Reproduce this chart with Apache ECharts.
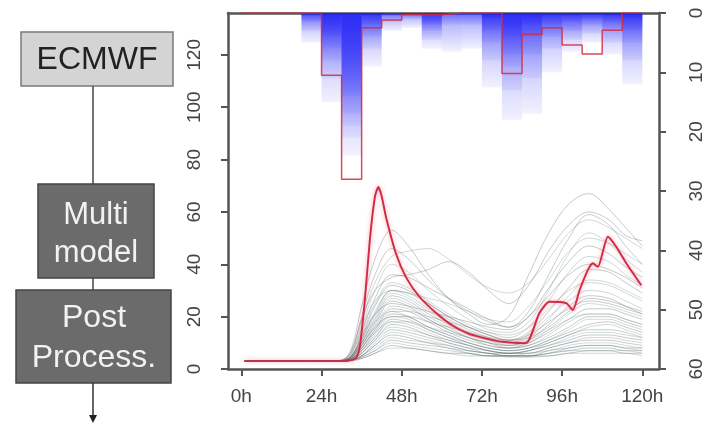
<!DOCTYPE html>
<html>
<head>
<meta charset="utf-8">
<script src="https://cdn.jsdelivr.net/npm/echarts@6/dist/echarts.min.js"></script>
<style>
html, body { margin: 0; padding: 0; background: #fff; }
#chart { width: 706px; height: 424px; }
</style>
</head>
<body>
<div id="chart"></div>
<script>
// axis ticks
const timeTicks = [0, 24, 48, 72, 96, 120];
const flowTicks = [0, 20, 40, 60, 80, 100, 120];

// ensemble discharge runs, sampled at ensTimes (hours)
const ensTimes = [1, 24, 30, 33, 36, 40, 45, 50, 56, 62, 68, 74, 80, 86, 92, 98, 104, 110, 115, 120];
const ensembleRuns = [
  [3, 3, 3.4, 8, 24, 42, 53, 47, 36, 27, 21, 17, 20, 36, 52, 63, 67, 61, 54, 47],
  [3, 3, 3.3, 6, 18, 33, 43, 45, 46, 42, 36, 31, 29, 33, 42, 52, 57, 54, 50, 46],
  [3, 3, 3.3, 7, 20, 36, 46, 42, 34, 27, 22, 18, 16, 22, 36, 50, 59, 55, 47, 40],
  [3, 3, 3.2, 6, 16, 30, 40, 37, 30, 24, 19, 15, 14, 18, 30, 44, 52, 48, 42, 37],
  [3, 3, 3.2, 5, 14, 27, 36, 35, 31, 27, 23, 19, 16, 20, 31, 41, 47, 44, 39, 35],
  [3, 3, 3.2, 5, 13, 25, 33, 31, 26, 21, 17, 14, 12, 16, 26, 37, 43, 41, 36, 32],
  [3, 3, 3.1, 5, 12, 24, 32, 30, 25, 20, 16, 13, 11, 14, 22, 31, 38, 37, 33, 29],
  [3, 3, 3.1, 5, 11, 22, 30, 28, 23, 19, 15, 12, 10, 12, 19, 28, 34, 33, 30, 27],
  [3, 3, 3.1, 4.5, 11, 21, 30, 29, 25, 20, 16, 13, 11, 12, 16, 22, 27, 26, 24, 22],
  [3, 3, 3.1, 4.5, 10, 20, 29, 27, 22, 18, 14, 11, 10, 13, 20, 26, 30, 29, 26, 23],
  [3, 3, 3, 4.5, 10, 19, 28, 26, 21, 17, 13, 11, 9, 11, 17, 24, 28, 27, 24, 21],
  [3, 3, 3, 4.5, 9, 18, 27, 25, 20, 16, 12, 10, 9, 10, 15, 21, 25, 24, 22, 20],
  [3, 3, 3, 4, 9, 17, 26, 24, 19, 15, 12, 10, 8, 10, 14, 19, 23, 23, 21, 19],
  [3, 3, 3, 4, 8, 16, 24, 23, 19, 15, 12, 9, 8, 9, 13, 18, 21, 21, 19, 17],
  [3, 3, 3, 4, 8, 15, 23, 22, 18, 14, 11, 9, 8, 9, 12, 16, 20, 20, 18, 16],
  [3, 3, 3, 4, 8, 15, 22, 20, 16, 13, 10, 8, 7, 8, 11, 15, 19, 19, 17, 15],
  [3, 3, 3, 4, 7, 14, 21, 20, 16, 13, 10, 8, 7, 8, 11, 14, 17, 18, 16, 14],
  [3, 3, 3, 4, 7, 13, 20, 19, 15, 12, 10, 8, 7, 8, 10, 13, 16, 17, 15, 13],
  [3, 3, 3, 3.8, 7, 12, 19, 18, 15, 12, 9, 7, 6, 7, 10, 13, 15, 15, 14, 12],
  [3, 3, 3, 3.8, 6, 12, 18, 17, 14, 11, 9, 7, 6, 7, 9, 12, 14, 14, 13, 12],
  [3, 3, 3, 3.7, 6, 11, 17, 16, 13, 11, 9, 7, 6, 7, 9, 11, 13, 13, 12, 11],
  [3, 3, 3, 3.6, 6, 11, 16, 15, 13, 10, 8, 7, 6, 6, 8, 10, 12, 12, 11, 10],
  [3, 3, 3, 3.5, 5, 10, 15, 14, 12, 10, 8, 6, 6, 6, 8, 10, 11, 11, 10, 9],
  [3, 3, 3, 3.5, 5, 9, 14, 13, 11, 9, 7, 6, 5, 6, 7, 9, 10, 10, 9, 8],
  [3, 3, 3, 3.4, 5, 9, 13, 12, 10, 9, 7, 6, 5, 5, 7, 8, 9, 9, 8, 8],
  [3, 3, 3, 3.4, 5, 8, 12, 11, 10, 8, 7, 6, 5, 5, 6, 8, 9, 9, 8, 7],
  [3, 3, 3, 3.3, 4.5, 7, 11, 10, 9, 8, 6, 5, 5, 5, 6, 7, 8, 8, 7, 7],
  [3, 3, 3, 3.3, 4.5, 7, 10, 9, 8, 7, 6, 5, 5, 5, 6, 7, 7, 7, 7, 6],
  [3, 3, 3, 3.2, 4, 6, 9, 8, 7, 6, 6, 5, 5, 5, 5, 6, 7, 7, 6, 6],
  [3, 3, 3, 3.2, 4, 6, 8, 8, 7, 6, 5, 5, 4.5, 4.5, 5, 6, 6, 6, 6, 5],
  [3, 3, 3.4, 7, 19, 30, 35, 36, 38, 41, 37, 30, 25, 32, 45, 55, 60, 57, 51, 49],
  [3, 3, 3.2, 6, 15, 26, 30, 29, 27, 25, 22, 19, 18, 24, 34, 45, 50, 48, 44, 40],
  [3, 3, 3.2, 5, 12, 21, 25, 24, 22, 20, 18, 16, 15, 20, 28, 36, 40, 38, 35, 31],
  [3, 3, 3.1, 5, 10, 18, 22, 22, 20, 18, 16, 14, 13, 16, 23, 30, 33, 32, 29, 26],
  [3, 3, 3.1, 4.5, 9, 16, 20, 20, 18, 16, 14, 12, 11, 13, 18, 23, 26, 25, 23, 21],
  [3, 3, 3, 4, 8, 14, 18, 18, 16, 14, 12, 10, 9, 11, 15, 19, 21, 21, 19, 17]
];

// highlighted (red) discharge
const obsTimes = [1, 30, 33, 34.5, 35.5, 37, 38.5, 40, 41, 42, 43.3, 46.3, 49.3, 53.3, 58.3, 63.3, 68, 71.3, 78.2, 85.2, 89.2, 92.2, 97.2, 99.2, 101.2, 103.7, 105.2, 106.7, 109.7, 112.2, 115.2, 119.7];
const obsFlow  = [3, 3, 3.4, 4.5, 9, 27, 50, 66, 69.5, 66, 58, 44, 35, 27.6, 21.4, 16.5, 13.5, 12.3, 10.4, 9.9, 21.4, 25.7, 25.2, 22.5, 30, 37.8, 40.4, 39, 50.5, 46.7, 40.4, 32];

// 6-hourly precipitation (right axis, mm)
const binStart = [0, 6, 12, 18, 24, 30, 36, 42, 48, 54, 60, 66, 72, 78, 84, 90, 96, 102, 108, 114];
const binHours = 6;
const precipObs = [0, 0, 0, 0, 10.5, 28, 2.5, 1.2, 0.3, 0.3, 0, 0, 0, 10.2, 3.6, 2.5, 5.4, 6.9, 2.9, 0];
const precipQ10 = [0, 0, 0, 0, 4, 14, 0.5, 0, 0, 0.5, 0, 0, 1, 4, 2, 0.5, 0.5, 0.3, 0.5, 1];
const precipQ30 = [0, 0, 0, 0.5, 6, 17, 2, 0, 0, 2, 0, 0, 3, 7, 4, 2, 1.5, 1, 1.5, 3];
const precipQ50 = [0, 0, 0, 1.5, 8, 19, 4, 0.5, 0.3, 3, 0.3, 0.3, 5, 9, 7, 4, 3, 2, 3, 5];
const precipQ70 = [0, 0, 0, 3, 11, 21, 6, 1.5, 1, 4.5, 2, 2, 8, 13, 11, 6, 4.5, 3.5, 5, 8];
const precipQ90 = [0, 0, 0, 5, 15, 24, 9, 3, 2.5, 6, 6.5, 6, 12.5, 18, 17, 10, 6.5, 5, 7, 12];

const FONT = 'Liberation Sans, Arial, sans-serif';
const chart = echarts.init(document.getElementById('chart'));

const runColors = ['rgba(70,80,80,0.3)', 'rgba(90,110,110,0.28)', 'rgba(60,70,70,0.28)', 'rgba(100,150,150,0.33)'];
const ensSeries = ensembleRuns.map((run, k) => ({
  type: 'line',
  data: ensTimes.map((t, i) => [t, run[i]]),
  smooth: 0.35,
  showSymbol: false,
  silent: true,
  z: 2,
  lineStyle: { width: 1, color: runColors[k % runColors.length] }
}));

function layer(q) {
  return {
    type: 'custom',
    xAxisIndex: 0,
    yAxisIndex: 1,
    silent: true,
    z: 3,
    data: binStart.map((s, i) => [s, s + binHours, q[i]]),
    renderItem: function (params, api) {
      if (!api.value(2)) return null;
      const p0 = api.coord([api.value(0), 0]);
      const p1 = api.coord([api.value(1), api.value(2)]);
      return {
        type: 'rect',
        shape: { x: p0[0], y: p0[1], width: p1[0] - p0[0], height: p1[1] - p0[1] },
        style: {
          fill: new echarts.graphic.LinearGradient(0, 0, 0, 1, [
            { offset: 0, color: 'rgba(30,30,245,0.42)' },
            { offset: 1, color: 'rgba(30,30,245,0.06)' }
          ])
        }
      };
    }
  };
}

const stepData = [];
binStart.forEach((s, i) => {
  stepData.push([s, precipObs[i]]);
  stepData.push([s + binHours, precipObs[i]]);
});

const axisLine = { show: true, onZero: false, lineStyle: { color: '#555', width: 2.5 } };
const axisTick = { show: true, length: 7, lineStyle: { color: '#555', width: 2 } };

chart.setOption({
  animation: false,
  grid: { left: 228, right: 46, top: 13, bottom: 55 },
  xAxis: [{
    type: 'value', min: -4, max: 125,
    axisLine: axisLine,
    axisTick: Object.assign({ customValues: timeTicks }, axisTick),
    splitLine: { show: false },
    axisLabel: { customValues: timeTicks, formatter: v => v + 'h', color: '#444', fontSize: 19, fontFamily: FONT, margin: 18 }
  }, {
    type: 'value', min: -4, max: 125, position: 'top',
    axisLine: axisLine, axisTick: { show: false }, axisLabel: { show: false }, splitLine: { show: false }
  }],
  yAxis: [{
    type: 'value', min: 0, max: 136, interval: 20,
    axisLine: axisLine,
    axisTick: Object.assign({ customValues: flowTicks }, axisTick),
    splitLine: { show: false },
    axisLabel: { customValues: flowTicks, rotate: 90, color: '#444', fontSize: 19, fontFamily: FONT, margin: 24 }
  }, {
    type: 'value', min: 0, max: 60, interval: 10, inverse: true, position: 'right',
    axisLine: axisLine, axisTick: axisTick,
    splitLine: { show: false },
    axisLabel: { rotate: 90, color: '#444', fontSize: 19, fontFamily: FONT, margin: 28 }
  }],
  series: ensSeries.concat([
    layer(precipQ90), layer(precipQ70), layer(precipQ50), layer(precipQ30), layer(precipQ10),
    {
      type: 'line', xAxisIndex: 0, yAxisIndex: 1, data: stepData,
      showSymbol: false, silent: true, z: 4,
      lineStyle: { width: 1.5, color: 'rgba(215,40,60,0.85)' }
    },
    {
      type: 'line', data: obsTimes.map((t, i) => [t, obsFlow[i]]),
      showSymbol: false, silent: true, z: 5, smooth: 0.2,
      lineStyle: { width: 1.9, color: '#d02a44', shadowColor: 'rgba(240,120,140,0.7)', shadowBlur: 4 }
    }
  ]),
  graphic: [
    { type: 'rect', shape: { x: 21, y: 32, width: 152, height: 54 }, style: { fill: '#d4d4d4', stroke: '#7a7a7a', lineWidth: 1.5 } },
    { type: 'text', x: 97, y: 60, style: { text: 'ECMWF', font: '32px ' + FONT, fill: '#222', align: 'center', verticalAlign: 'middle' } },
    { type: 'line', shape: { x1: 93, y1: 86, x2: 93, y2: 184 }, style: { stroke: '#444', lineWidth: 1.5 } },
    { type: 'rect', shape: { x: 38, y: 184, width: 116, height: 94 }, style: { fill: '#6b6b6b', stroke: '#444', lineWidth: 1.5 } },
    { type: 'text', x: 96, y: 215, style: { text: 'Multi', font: '31px ' + FONT, fill: '#f2f2f2', align: 'center', verticalAlign: 'middle' } },
    { type: 'text', x: 96, y: 253, style: { text: 'model', font: '31px ' + FONT, fill: '#f2f2f2', align: 'center', verticalAlign: 'middle' } },
    { type: 'line', shape: { x1: 93, y1: 278, x2: 93, y2: 290 }, style: { stroke: '#444', lineWidth: 1.5 } },
    { type: 'rect', shape: { x: 16, y: 290, width: 155, height: 93 }, style: { fill: '#6b6b6b', stroke: '#444', lineWidth: 1.5 } },
    { type: 'text', x: 94, y: 318, style: { text: 'Post', font: '32px ' + FONT, fill: '#f2f2f2', align: 'center', verticalAlign: 'middle' } },
    { type: 'text', x: 94, y: 358, style: { text: 'Process.', font: '32px ' + FONT, fill: '#f2f2f2', align: 'center', verticalAlign: 'middle' } },
    { type: 'line', shape: { x1: 93, y1: 383, x2: 93, y2: 417 }, style: { stroke: '#333', lineWidth: 1.5 } },
    { type: 'polygon', shape: { points: [[89, 415], [97, 415], [93, 423]] }, style: { fill: '#222' } }
  ]
});
</script>
</body>
</html>
